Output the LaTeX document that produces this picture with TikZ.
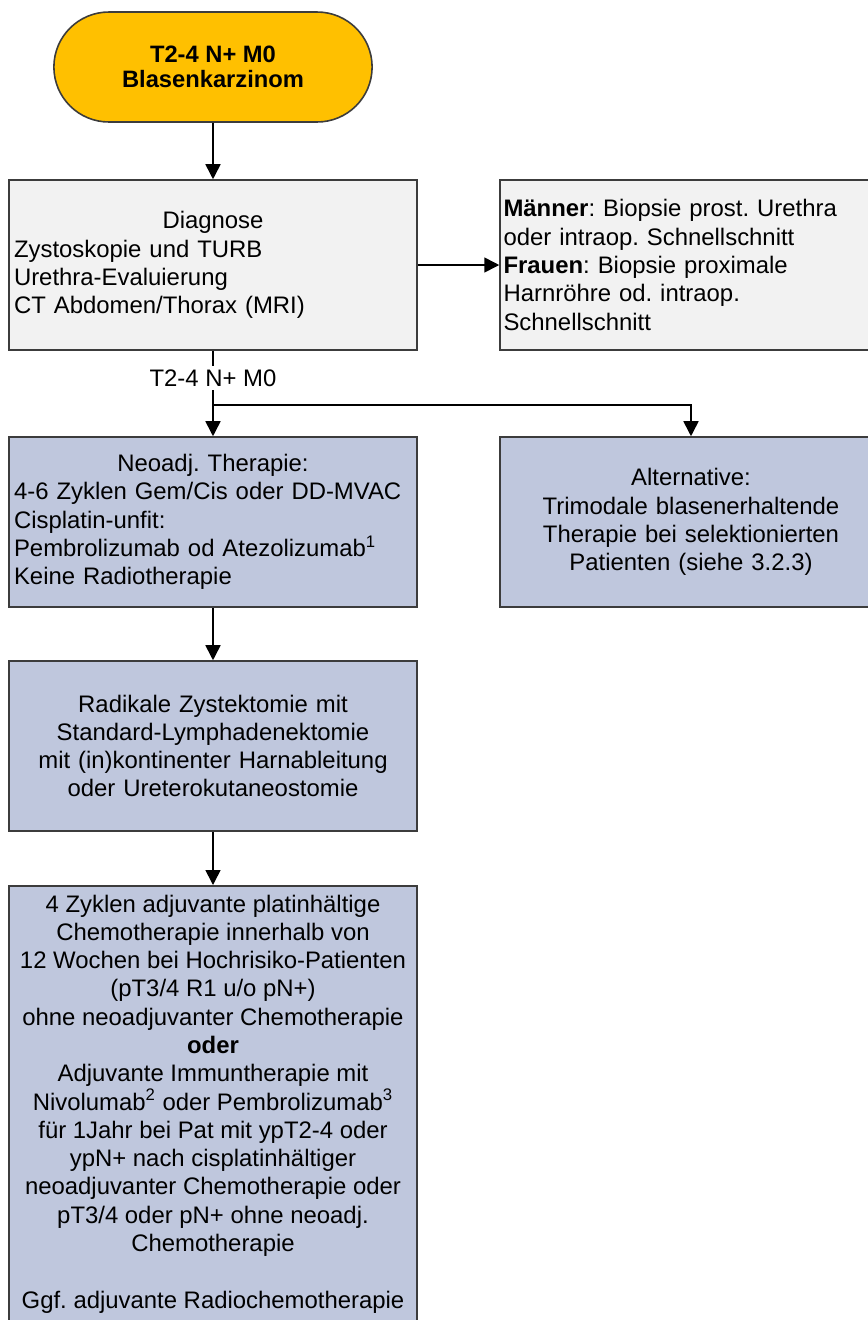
\documentclass[tikz,border=0pt]{standalone}
\usepackage{fontspec}
\setmainfont{Liberation Sans}
\usepackage{tikz}
\usetikzlibrary{shapes.misc, arrows.meta, positioning}
\definecolor{cOrange}{RGB}{255,192,0}
\definecolor{cGrey}{RGB}{242,242,242}
\definecolor{cBlue}{RGB}{191,199,221}
\definecolor{cFrame}{RGB}{60,60,60}
\frenchspacing
\tikzset{
	startstop/.style={rounded rectangle, minimum width=6.6cm, minimum height=2.2cm, align=center, draw=cFrame, line width=0.9pt, fill=cOrange, font=\fontsize{13.5}{14.4}\selectfont\bfseries},
	diagbox/.style  ={rectangle, minimum width=8.16cm, minimum height=3.4cm, text width=7.96cm, inner xsep=0.1cm, align=left, draw=cFrame, line width=0.9pt, fill=cGrey},
	notebox/.style  ={rectangle, minimum width=7.64cm, minimum height=3.4cm, text width=7.5cm, inner xsep=0.07cm, align=left, draw=cFrame, line width=0.9pt, fill=cGrey},
	therapy/.style  ={rectangle, minimum width=8.16cm, minimum height=3.4cm, text width=7.96cm, inner xsep=0.1cm, align=center, draw=cFrame, line width=0.9pt, fill=cBlue},
	adjbox/.style   ={rectangle, inner xsep=0.1cm, inner ysep=0.18cm, draw=cFrame, line width=0.9pt, fill=cBlue},
	flowarrow/.style={-{Triangle[length=0.3cm, width=0.3cm]}, line width=0.9pt},
	edgelab/.style  ={fill=white, inner sep=2pt},
}

\begin{document}
\begin{tikzpicture}[x=0.02cm, y=-0.02cm, font=\fontsize{13.6}{16.1}\selectfont\frenchspacing]
	\useasboundingbox[fill=white] (0,0) rectangle (867,1320);
	\node[startstop] (start) at (213,67) {T2-4 N+ M0\\Blasenkarzinom};
	\node[diagbox] (diag) at (213,265) {\makebox[\hsize]{Diagnose}\\Zystoskopie und TURB\\Urethra-Evaluierung\\CT Abdomen/Thorax (MRI)};
	\node[notebox] (sex) at (691,265) {\textbf{Männer}: Biopsie prost. Urethra\\oder intraop. Schnellschnitt\\\textbf{Frauen}: Biopsie proximale\\Harnröhre od. intraop.\\Schnellschnitt};
	\coordinate (split) at (213,405);
	\node[therapy, align=left] (neo) at (213,522) {\makebox[\hsize]{Neoadj. Therapie:}\\4-6 Zyklen Gem/Cis oder DD-MVAC\\Cisplatin-unfit:\\Pembrolizumab od Atezolizumab\textsuperscript{1}\\Keine Radiotherapie};
	\node[therapy, minimum width=7.64cm, text width=7.44cm] (alt) at (691,522) {Alternative:\\Trimodale blasenerhaltende\\Therapie bei selektionierten\\Patienten (siehe 3.2.3)};
	\node[therapy] (rad) at (213,746) {Radikale Zystektomie mit\\Standard-Lymphadenektomie\\mit (in)kontinenter Harnableitung\\oder Ureterokutaneostomie};
	\node[adjbox, anchor=north] (adj) at (213,885) {\parbox[t][9.4cm][t]{7.96cm}{\centering
		4 Zyklen adjuvante platinhältige\\Chemotherapie innerhalb von\\12 Wochen bei Hochrisiko-Patienten\\(pT3/4 R1 u/o pN+)\\ohne neoadjuvanter Chemotherapie\\\textbf{oder}\\Adjuvante Immuntherapie mit\\Nivolumab\textsuperscript{2} oder Pembrolizumab\textsuperscript{3}\\für 1Jahr bei Pat mit ypT2-4 oder\\ypN+ nach cisplatinhältiger\\neoadjuvanter Chemotherapie oder\\pT3/4 oder pN+ ohne neoadj.\\Chemotherapie\\[\baselineskip]Ggf. adjuvante Radiochemotherapie}};

	\draw[flowarrow] (start) -- (diag);
	\draw[flowarrow] (diag) -- (sex);
	\draw[line width=0.9pt] (diag) -- node[edgelab] {T2-4 N+ M0} (split);
	\draw[flowarrow] (split) -- (neo);
	\draw[flowarrow] (split) -| (alt);
	\draw[flowarrow] (neo) -- (rad);
	\draw[flowarrow] (rad) -- (adj);
\end{tikzpicture}
\end{document}
